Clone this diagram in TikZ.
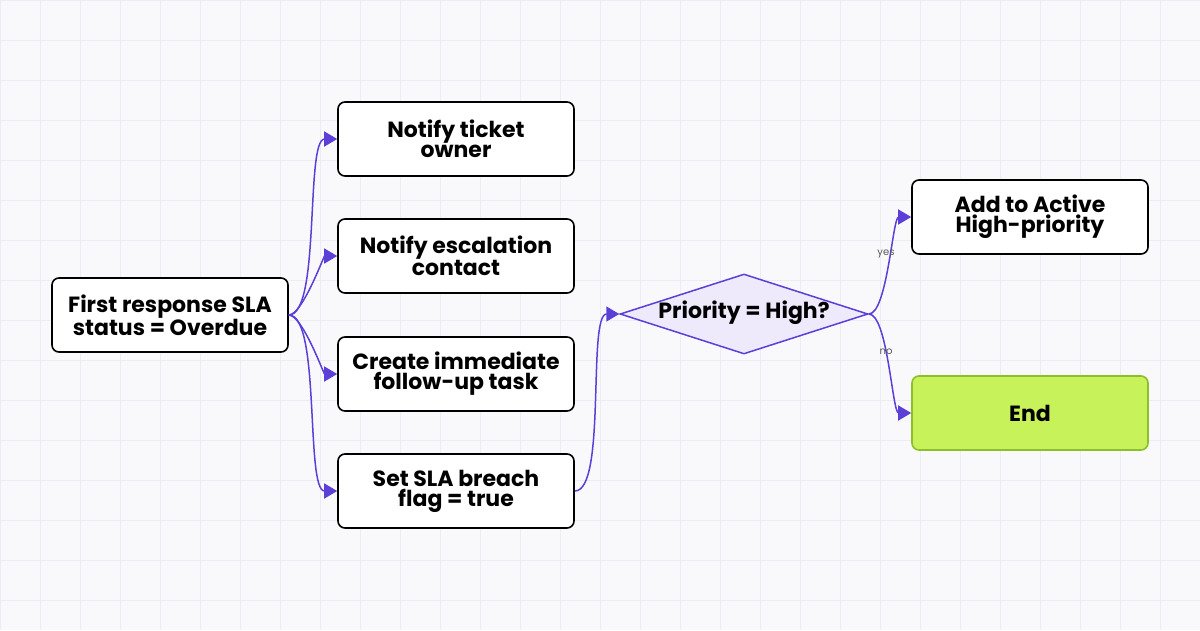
\documentclass[tikz,border=0pt]{standalone}
\usepackage{fontspec}
\setmainfont{Poppins}
\usetikzlibrary{shapes.geometric,arrows.meta}
\definecolor{pur}{HTML}{5B3FD6}
\definecolor{dfill}{HTML}{EEEAFC}
\definecolor{gfill}{HTML}{C8F25A}
\definecolor{gline}{HTML}{8DBF2A}
\definecolor{grid}{HTML}{ECEDF4}
\definecolor{bg}{HTML}{F9F9FC}
\begin{document}
\begin{tikzpicture}[x=1pt,y=-1pt,
 box/.style={draw=black,line width=1.6pt,rounded corners=7pt,fill=white,minimum width=236pt,minimum height=74pt,align=center,font=\fontsize{22}{20}\selectfont\bfseries,inner sep=2pt},
 con/.style={draw=pur,line width=1.5pt,-{Triangle[length=13pt,width=15pt]},looseness=0.45},
 lab/.style={font=\fontsize{10}{10}\selectfont,text=gray!70!black}]
\fill[bg] (0,0) rectangle (1200,630);
\useasboundingbox (0,0) rectangle (1200,630);
\foreach \x in {0,40,...,1200} \draw[grid,line width=0.6pt] (\x,0)--(\x,630);
\foreach \y in {0,40,...,630} \draw[grid,line width=0.6pt] (0,\y)--(1200,\y);
\node[box] (s) at (170,315) {First response SLA\\status = Overdue};
\node[box] (a) at (456,139) {Notify ticket\\owner};
\node[box] (b) at (456,256) {Notify escalation\\contact};
\node[box] (c) at (456,374) {Create immediate\\follow-up task};
\node[box] (d) at (456,491) {Set SLA breach\\flag = true};
\node[diamond,draw=pur,fill=dfill,line width=1.5pt,minimum width=248pt,minimum height=80pt,aspect=3.1,inner sep=0pt] (p) at (744,314) {};
\node[font=\fontsize{22}{20}\selectfont\bfseries] at (744,313) {Priority = High?};
\node[box] (h) at (1030,217) {Add to Active\\High-priority};
\node[box,draw=gline,fill=gfill] (e) at (1030,413) {End};
\foreach \t in {a,b,c,d} \draw[con] (s.east) to[out=0,in=180] (\t.west);
\draw[con] (d.east) to[out=0,in=180] (p.west);
\draw[con] (p.east) to[out=0,in=180] coordinate[pos=0.5] (ym) (h.west);
\draw[con] (p.east) to[out=0,in=180] coordinate[pos=0.5] (nm) (e.west);
\node[lab] at (886,254) {yes};
\node[lab] at (886,352) {no};
\end{tikzpicture}
\end{document}
